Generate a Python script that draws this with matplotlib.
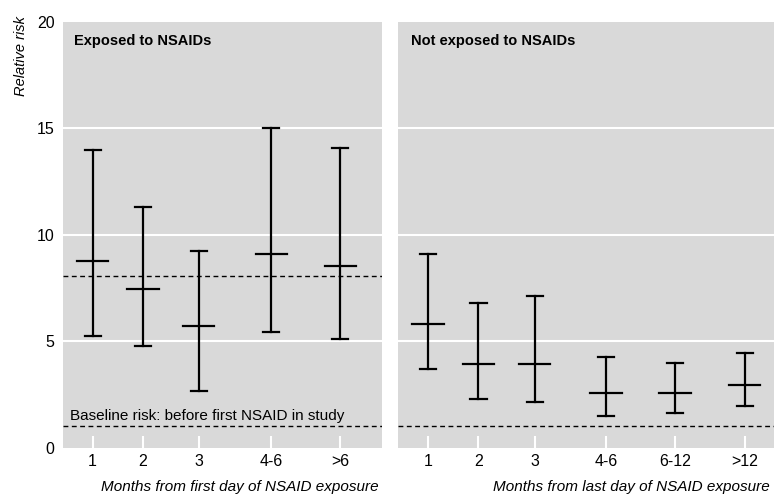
import matplotlib.pyplot as plt

plt.rcParams['font.family'] = ['Liberation Sans Narrow', 'Liberation Sans', 'DejaVu Sans']

dpi = 100
grey = '#d9d9d9'

# exposed to NSAIDs
exp_labels = ['1', '2', '3', '4-6', '>6']
exp_pos = [1, 2, 3.11, 4.55, 5.92]
exp_rr = [8.75, 7.45, 5.72, 9.11, 8.53]
exp_lo = [5.26, 4.76, 2.66, 5.42, 5.09]
exp_hi = [14.0, 11.32, 9.25, 15.0, 14.07]
exp_ref = 8.05

# not exposed to NSAIDs
nexp_labels = ['1', '2', '3', '4-6', '6-12', '>12']
nexp_pos = [1, 2, 3.11, 4.52, 5.88, 7.26]
nexp_rr = [5.8, 3.93, 3.93, 2.55, 2.55, 2.93]
nexp_lo = [3.68, 2.27, 2.16, 1.5, 1.61, 1.95]
nexp_hi = [9.09, 6.79, 7.12, 4.25, 3.98, 4.42]

baseline = 1.0


def panel(ax, pos, rr, lo, hi, labels, title, xlabel, xlim):
    ax.set_facecolor(grey)
    for s in ax.spines.values():
        s.set_visible(False)
    ax.set_xlim(xlim)
    ax.set_ylim(0, 20)
    for y in (5, 10, 15):
        ax.axhline(y, color='white', lw=1.5, zorder=1)
    for x, r, l, h in zip(pos, rr, lo, hi):
        ax.plot([x, x], [l, h], color='black', lw=1.6, zorder=3)
        ax.plot([x - 0.16, x + 0.16], [l, l], color='black', lw=1.6, zorder=3)
        ax.plot([x - 0.16, x + 0.16], [h, h], color='black', lw=1.6, zorder=3)
        ax.plot([x - 0.31, x + 0.31], [r, r], color='black', lw=1.6, zorder=3)
    ax.axhline(baseline, color='black', lw=1, ls=(0, (3.5, 2.5)), zorder=2)
    ax.set_xticks(pos)
    ax.set_xticklabels(labels, fontsize=11.5)
    ax.tick_params(axis='x', direction='in', length=8.5, width=1.5, color='white', pad=4.5)
    ax.text(0.035, 0.955, title, transform=ax.transAxes, fontsize=10.5,
            fontweight='bold', ha='left', va='center')
    ax.text(0.99, -0.092, xlabel, transform=ax.transAxes, fontsize=11,
            style='italic', ha='right', va='center')


fig = plt.figure(figsize=(774 / dpi, 496 / dpi), dpi=dpi)
ax1 = fig.add_axes([63 / 774, 1 - 447.5 / 496, 319 / 774, 425.5 / 496])
ax2 = fig.add_axes([398 / 774, 1 - 447.5 / 496, 376 / 774, 425.5 / 496])

panel(ax1, exp_pos, exp_rr, exp_lo, exp_hi, exp_labels, 'Exposed to NSAIDs',
      'Months from first day of NSAID exposure', (0.41, 6.75))
panel(ax2, nexp_pos, nexp_rr, nexp_lo, nexp_hi, nexp_labels, 'Not exposed to NSAIDs',
      'Months from last day of NSAID exposure', (0.41, 7.84))

ax1.axhline(exp_ref, color='black', lw=1, ls=(0, (3.5, 2.5)), zorder=2)
ax1.text(0.55, 1.5, 'Baseline risk: before first NSAID in study', fontsize=11,
         ha='left', va='center')

ax1.set_yticks([0, 5, 10, 15, 20])
ax1.tick_params(axis='y', length=0, pad=6, labelsize=11.5)
ax2.set_yticks([0, 5, 10, 15, 20])
ax2.tick_params(axis='y', length=0, labelleft=False)

fig.text(21 / 774, 1 - 16 / 496, 'Relative risk', rotation=90, style='italic',
         fontsize=10.5, ha='center', va='top')

fig.savefig('out.png', dpi=dpi)
